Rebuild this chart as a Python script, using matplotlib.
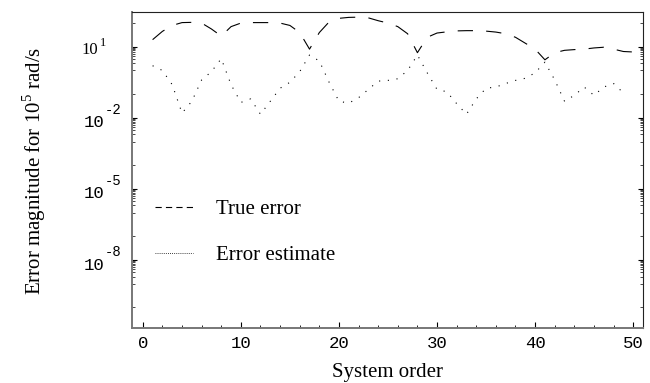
import numpy as np
import matplotlib
matplotlib.use("Agg")
import matplotlib.pyplot as plt
import matplotlib.transforms as mtransforms
from matplotlib.lines import Line2D

# valores (log10 do erro)
ordem_true = np.arange(1, 51)
true_log = [1.3, 1.65, 1.9, 2.02, 2.03, 2.0, 1.75, 1.45, 1.85, 2.0,
            2.02, 2.02, 2.02, 2.0, 1.9, 1.6, 0.9, 1.6, 2.05, 2.2,
            2.24, 2.25, 2.22, 2.1, 2.0, 1.85, 1.55, 0.75, 1.4, 1.58,
            1.63, 1.67, 1.68, 1.68, 1.66, 1.62, 1.55, 1.4, 1.15, 0.9,
            0.45, 0.75, 0.85, 0.88, 0.9, 0.95, 0.98, 0.9, 0.8, 0.78]

ordem_est = np.arange(1, 50)
est_log = [0.2, 0.0, -0.6, -1.8, -1.3, -0.4, -0.05, 0.5, -0.6, -1.35,
           -1.2, -1.85, -1.3, -0.75, -0.5, -0.05, 0.65, 0.4, -0.5, -1.3,
           -1.38, -1.15, -0.8, -0.45, -0.42, -0.35, 0.0, 0.65, -0.1, -0.8,
           -0.9, -1.4, -1.85, -1.2, -0.75, -0.7, -0.55, -0.42, -0.33, -0.1,
           0.35, -0.4, -1.3, -1.05, -0.7, -1.05, -0.7, -0.55, -0.95]

x_ticks = [0, 10, 20, 30, 40, 50]
y_expoentes = [1, -2, -5, -8]

erro_true = 10.0 ** np.array(true_log)
erro_est = 10.0 ** np.array(est_log)

plt.rcParams['lines.scale_dashes'] = False
plt.rcParams['mathtext.fontset'] = 'custom'
plt.rcParams['mathtext.rm'] = 'Liberation Serif'
serif = 'Liberation Serif'
mono = 'Liberation Mono'

W, H, DPI = 650, 383, 100
fig = plt.figure(figsize=(W / DPI, H / DPI), dpi=DPI)
ax = fig.add_axes([132 / W, 1 - 328 / H, (643 - 132) / W, (328 - 11.7) / H])

ax.plot(ordem_true, erro_true, color='black', lw=0.8, dashes=(11, 9.5))
ax.plot(ordem_est, erro_est, color='black', lw=0.8, dashes=(0.8, 5.5))

ax.set_yscale('log')
ax.set_xlim(-1.1, 51.0)
ax.set_ylim(10 ** -10.87, 10 ** 2.48)

# ticks
ax.set_xticks(x_ticks)
ax.set_xticks(np.arange(0, 51, 2), minor=True)
ax.set_xticklabels([str(v) for v in x_ticks], fontfamily=mono, fontsize=12.5)
ax.tick_params(axis='x', which='both', direction='in', top=False, pad=6)
ax.tick_params(axis='x', which='major', length=4, width=0.8)
ax.tick_params(axis='x', which='minor', length=2.5, width=0.6)

ax.set_yticks([10.0 ** e for e in y_expoentes])
ax.set_yticklabels([''] * len(y_expoentes))
menores = [10.0 ** k for k in range(-10, 3)]
for e in y_expoentes:
    menores += [s * 10.0 ** (e - 1) for s in range(2, 10)]
ax.set_yticks(menores, minor=True)
ax.yaxis.set_minor_formatter(matplotlib.ticker.NullFormatter())
ax.tick_params(axis='y', which='both', direction='in', left=True, right=True)
ax.tick_params(axis='y', which='major', length=3.5, width=0.8)
ax.tick_params(axis='y', which='minor', length=2, width=0.5)

# rotulos do eixo y (10 em mono, expoente menor)
trans = mtransforms.blended_transform_factory(fig.transFigure, ax.transData)
for e in y_expoentes:
    if e == 1:
        base_t = trans + mtransforms.ScaledTranslation(0, -3 / DPI, fig.dpi_scale_trans)
        exp_t = trans + mtransforms.ScaledTranslation(0, 4 / DPI, fig.dpi_scale_trans)
        ax.text(98.5 / W, 10.0 ** e, '10', transform=base_t, ha='right', va='center',
                fontfamily=serif, fontsize=12)
        ax.text(100 / W, 10.0 ** e, '1', transform=exp_t, ha='left', va='center',
                fontfamily=serif, fontsize=9)
    else:
        base_t = trans + mtransforms.ScaledTranslation(0, -5 / DPI, fig.dpi_scale_trans)
        exp_t = trans + mtransforms.ScaledTranslation(0, 8 / DPI, fig.dpi_scale_trans)
        ax.text(104 / W, 10.0 ** e, '10', transform=base_t, ha='right', va='center',
                fontfamily=mono, fontsize=12.5)
        ax.text(105 / W, 10.0 ** e, str(e), transform=exp_t, ha='left', va='center',
                fontfamily=mono, fontsize=10)

# moldura
for lado in ['left', 'bottom']:
    ax.spines[lado].set_color('#777777')
    ax.spines[lado].set_linewidth(1.4)
for lado in ['top', 'right']:
    ax.spines[lado].set_color('#222222')
    ax.spines[lado].set_linewidth(0.8)

fig.text(387 / W, 1 - 373 / H, 'System order', ha='center', va='center',
         fontfamily=serif, fontsize=15)
fig.text(34 / W, 1 - 171 / H, r'Error magnitude for 10$^{5}$ rad/s', rotation=90,
         ha='center', va='center', fontfamily=serif, fontsize=15)

handles = [Line2D([], [], color='black', lw=0.8, dashes=(4.5, 3)),
           Line2D([], [], color='black', lw=0.6, dashes=(0.6, 0.9))]
ax.legend(handles, ['True error', 'Error estimate'], loc='center left',
          bbox_to_anchor=(155 / W, 1 - 232.5 / H), bbox_transform=fig.transFigure,
          frameon=False, prop={'family': serif, 'size': 15}, handlelength=1.83,
          handletextpad=1.1, labelspacing=1.25, borderpad=0, borderaxespad=0)

fig.savefig('out.png', dpi=DPI, facecolor='white')
